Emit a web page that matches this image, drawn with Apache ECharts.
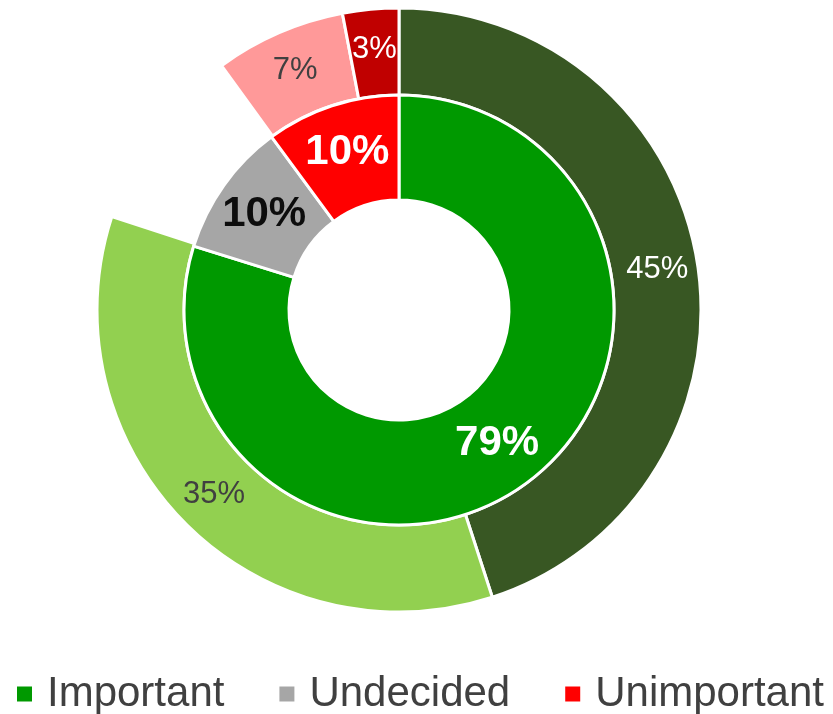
<!DOCTYPE html>
<html>
<head>
<meta charset="utf-8">
<title>Importance</title>
<script src="https://cdn.jsdelivr.net/npm/echarts@6/dist/echarts.min.js"></script>
<style>
  html, body { margin: 0; padding: 0; background: #fff; }
  #chart { width: 833px; height: 714px; }
</style>
</head>
<body>
<div id="chart"></div>
<script>
// inner ring (legend categories)
var innerNames = ['Important', 'Undecided', 'Unimportant'];
var innerValues = [79, 10, 10];
var innerColors = ['#009900', '#a6a6a6', '#ff0000'];
var innerLabelColors = ['#ffffff', '#0d0d0d', '#ffffff'];

// outer ring, the gap sits behind "Undecided"
var outerNames = ['Very important', 'Somewhat important', '', 'Somewhat unimportant', 'Very unimportant'];
var outerValues = [45, 35, 10, 7, 3];
var outerColors = ['#385723', '#92d050', 'transparent', '#ff9999', '#c00000'];
var outerLabelColors = ['#ffffff', '#404040', '', '#404040', '#ffffff'];

var font = 'Liberation Sans, Arial, sans-serif';

var innerData = [];
for (var i = 0; i < innerNames.length; i++) {
  innerData.push({
    name: innerNames[i],
    value: innerValues[i],
    itemStyle: { color: innerColors[i] },
    label: { color: innerLabelColors[i] }
  });
}

var outerData = [];
for (var j = 0; j < outerNames.length; j++) {
  if (outerNames[j] === '') {
    // empty slice: no fill, no border, no label
    outerData.push({
      name: 'gap',
      value: outerValues[j],
      itemStyle: { color: 'rgba(0,0,0,0)', borderWidth: 0 },
      label: { show: false },
      emphasis: { disabled: true }
    });
  } else {
    outerData.push({
      name: outerNames[j],
      value: outerValues[j],
      itemStyle: { color: outerColors[j] },
      label: { color: outerLabelColors[j] }
    });
  }
}

var chart = echarts.init(document.getElementById('chart'));
chart.setOption({
  animation: false,
  backgroundColor: '#ffffff',
  legend: {
    data: innerNames,
    left: 10,
    top: 668,
    icon: 'rect',
    itemWidth: 17,
    itemHeight: 17,
    itemGap: 53,
    textStyle: {
      fontFamily: font,
      fontSize: 42,
      color: '#404040',
      padding: [0, 0, 0, 9]
    }
  },
  series: [
    {
      name: 'outer',
      type: 'pie',
      center: [399, 310],
      radius: [215, 302],
      startAngle: 90,
      avoidLabelOverlap: false,
      itemStyle: { borderColor: '#ffffff', borderWidth: 3 },
      label: {
        show: true,
        position: 'inside',
        formatter: '{c}%',
        fontFamily: font,
        fontSize: 31
      },
      labelLine: { show: false },
      data: outerData
    },
    {
      name: 'inner',
      type: 'pie',
      center: [399, 310],
      radius: [110, 215],
      startAngle: 90,
      avoidLabelOverlap: false,
      itemStyle: { borderColor: '#ffffff', borderWidth: 3 },
      label: {
        show: true,
        position: 'inside',
        formatter: '{c}%',
        fontFamily: font,
        fontSize: 42,
        fontWeight: 'bold'
      },
      labelLine: { show: false },
      data: innerData
    }
  ]
});
</script>
</body>
</html>
